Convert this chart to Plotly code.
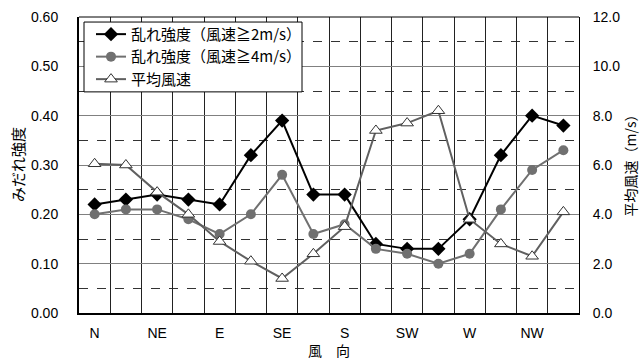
import plotly.graph_objects as go

categories = ["N", "NNE", "NE", "ENE", "E", "ESE", "SE", "SSE",
              "S", "SSW", "SW", "WSW", "W", "WNW", "NW", "NNW"]
tick_labels = ["N", "", "NE", "", "E", "", "SE", "",
               "S", "", "SW", "", "W", "", "NW", ""]
turb_2ms = [0.22, 0.23, 0.24, 0.23, 0.22, 0.32, 0.39, 0.24,
            0.24, 0.14, 0.13, 0.13, 0.19, 0.32, 0.40, 0.38]
turb_4ms = [0.20, 0.21, 0.21, 0.19, 0.16, 0.20, 0.28, 0.16,
            0.18, 0.13, 0.12, 0.10, 0.12, 0.21, 0.29, 0.33]
mean_speed = [6.05, 6.0, 4.9, 4.0, 2.9, 2.1, 1.4, 2.4,
              3.5, 7.4, 7.7, 8.2, 3.8, 2.8, 2.3, 4.1]

name1 = "乱れ強度（風速≧2m/s）"
name2 = "乱れ強度（風速≧4m/s）"
name3 = "平均風速"

JP = "Noto Sans CJK JP"
LAT = "Liberation Sans, Arial"

fig = go.Figure()
fig.add_trace(go.Scatter(x=categories, y=turb_2ms, name=name1, mode="lines+markers",
                         line=dict(color="#000000", width=2),
                         marker=dict(symbol="diamond", size=11, color="#000000")))
fig.add_trace(go.Scatter(x=categories, y=turb_4ms, name=name2, mode="lines+markers",
                         line=dict(color="#707070", width=2),
                         marker=dict(symbol="circle", size=10, color="#707070")))
fig.add_trace(go.Scatter(x=categories, y=mean_speed, name=name3, mode="lines+markers",
                         yaxis="y2",
                         line=dict(color="#606060", width=2),
                         marker=dict(symbol="triangle-up", size=11, color="#ffffff",
                                     line=dict(color="#333333", width=1))))

fig.update_layout(
    width=640, height=358,
    margin=dict(l=79, r=61, t=17, b=45),
    paper_bgcolor="white", plot_bgcolor="white",
    font=dict(family=LAT, size=14, color="#000000"),
    showlegend=True,
    legend=dict(x=0.024, y=0.997, xanchor="left", yanchor="top",
                bgcolor="rgba(0,0,0,0)", borderwidth=0,
                font=dict(family=JP, size=15, color="#000000"),
                tracegroupgap=0, itemwidth=30),
    xaxis=dict(type="category", categoryorder="array", categoryarray=categories,
               tickmode="array", tickvals=categories, ticktext=tick_labels,
               tickson="boundaries", ticks="", showgrid=True, tickangle=0,
               gridcolor="#222222", gridwidth=1, automargin=False,
               showline=True, linecolor="#000000", linewidth=2, mirror=False,
               range=[-0.5, 15.5], ticklabelstandoff=6,
               tickfont=dict(family=LAT, size=14)),
    yaxis=dict(range=[0, 0.6], dtick=0.1, tickformat=".2f", automargin=False,
               showgrid=True, gridcolor="#808080", gridwidth=1,
               minor=dict(dtick=0.05, showgrid=True, gridcolor="#333333",
                          griddash="dash", gridwidth=1),
               showline=True, linecolor="#000000", linewidth=2,
               ticks="", ticklabelstandoff=16, zeroline=False,
               tickfont=dict(family=LAT, size=14)),
    yaxis2=dict(range=[0, 12], dtick=2, tickformat=".1f", overlaying="y",
                side="right", showgrid=False, zeroline=False, automargin=False,
                showline=True, linecolor="#000000", linewidth=1,
                ticks="", ticklabelstandoff=10,
                tickfont=dict(family=LAT, size=14)),
    annotations=[
        dict(text="みだれ強度", xref="paper", yref="paper", x=-0.124, y=0.5,
             xanchor="center", yanchor="middle", textangle=-90, showarrow=False,
             font=dict(family=JP, size=15)),
        dict(text="平均風速（m/s）", xref="paper", yref="paper", x=1.103, y=0.51,
             xanchor="center", yanchor="middle", textangle=-90, showarrow=False,
             font=dict(family=JP, size=14)),
        dict(text="風　向", xref="paper", yref="paper", x=0.5, y=-0.125,
             xanchor="center", yanchor="middle", showarrow=False,
             font=dict(family=JP, size=14)),
    ],
)
# top border line
fig.add_shape(type="line", xref="paper", yref="paper", x0=0, x1=1, y0=1, y1=1,
              line=dict(color="#000000", width=1))
# legend box (white, framed) covering the grid
fig.add_shape(type="rect", xref="paper", yref="paper",
              x0=0.01, x1=0.446, y0=0.747, y1=0.983,
              fillcolor="white", line=dict(color="#000000", width=1), layer="above")

fig.write_html("out.html", config={"displayModeBar": False},
               post_script="document.body.style.margin='0';")
